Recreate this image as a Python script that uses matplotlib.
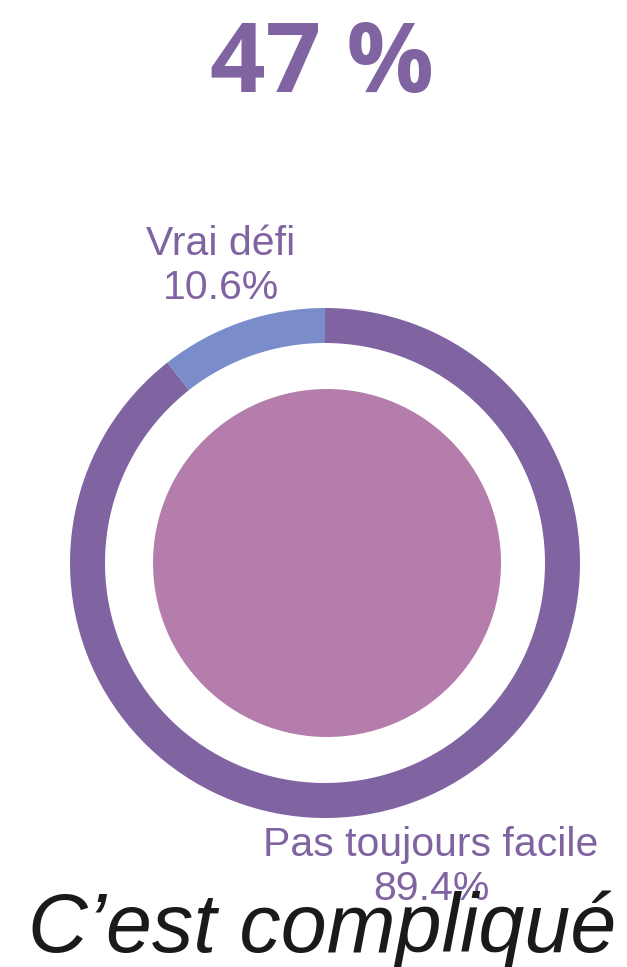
import matplotlib.pyplot as plt

# data
labels = ["Pas toujours facile", "Vrai défi"]
shares = [89.4, 10.6]
headline = "47 %"
caption = "C\u2019est compliqué"

PURPLE = "#8064a2"
BLUE = "#7b8ccb"
PINK = "#b57dab"

W, H = 627, 967
fig = plt.figure(figsize=(W / 100, H / 100), dpi=100)
ax = fig.add_axes([0, 0, 1, 1])

cx, cy = 325, H - 563

# outer ring
ax.pie(
    shares,
    colors=[PURPLE, BLUE],
    startangle=90,
    counterclock=False,
    radius=255,
    center=(cx, cy),
    wedgeprops=dict(width=35, linewidth=0),
    frame=True,
)
# inner filled disc
ax.pie([1], colors=[PINK], radius=174, center=(cx + 2, cy),
       wedgeprops=dict(linewidth=0), frame=True)
ax.set_xlim(0, W)
ax.set_ylim(0, H)
ax.set_aspect("equal")
ax.axis("off")

label_font = dict(family=["Liberation Sans", "DejaVu Sans"], fontsize=29.5,
                  color=PURPLE, ha="center", va="baseline", linespacing=1.2)
ax.text(431, H - 900, f"{labels[0]}\n{shares[0]:.1f}%", **label_font)
ax.text(221, H - 299, f"{labels[1]}\n{shares[1]:.1f}%", **label_font)

ax.text(322, H - 92, headline, family=["Open Sans", "DejaVu Sans"],
        fontweight="bold", fontsize=70, color=PURPLE, ha="center", va="baseline")
ax.text(322, H - 952, caption, family=["Liberation Sans", "DejaVu Sans"],
        style="italic", fontsize=59.5, color="#1a1a1a", ha="center", va="baseline")

fig.savefig("out.png", dpi=100, facecolor="white")
